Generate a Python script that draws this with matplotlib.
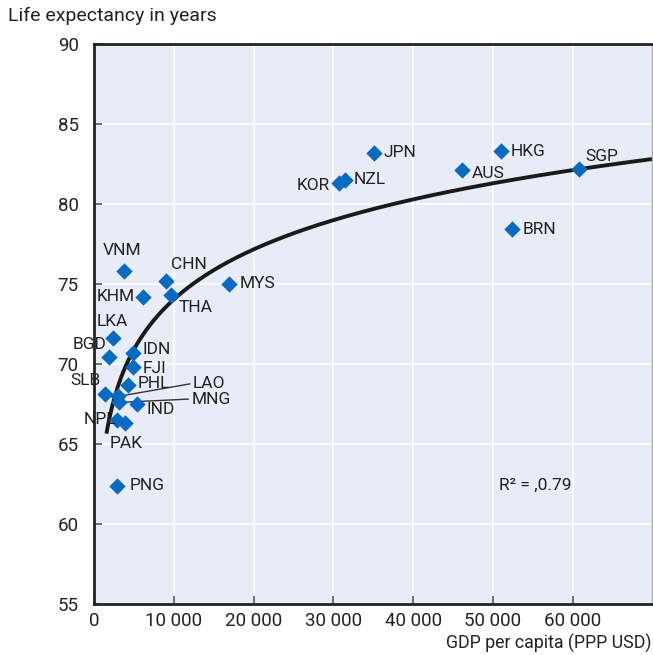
import numpy as np
import matplotlib.pyplot as plt
from matplotlib import rcParams

rcParams['font.family'] = ['Roboto', 'DejaVu Sans']

countries = ['JPN', 'HKG', 'AUS', 'SGP', 'KOR', 'NZL', 'BRN', 'VNM', 'CHN', 'KHM',
             'THA', 'MYS', 'LKA', 'BGD', 'IDN', 'FJI', 'PHL', 'SLB', 'LAO', 'MNG',
             'IND', 'NPL', 'PAK', 'PNG']
gdp = [35100, 51000, 46100, 60750, 30750, 31500, 52400, 3750, 9000, 6100,
       9600, 16900, 2400, 1900, 4900, 4900, 4250, 1400, 3000, 3100,
       5400, 2900, 3900, 2900]
life = [83.2, 83.3, 82.1, 82.2, 81.3, 81.5, 78.4, 75.8, 75.2, 74.2,
        74.3, 75.0, 71.6, 70.4, 70.7, 69.8, 68.7, 68.1, 68.0, 67.6,
        67.5, 66.5, 66.3, 62.4]

# logarithmic trend: life = a*ln(gdp) + b
trend_a = 4.51
trend_b = 32.49
trend_start = 1600

# label offsets in points (dx, dy, ha)
offsets = {
    'JPN': (7, 0, 'left'), 'HKG': (7, 0, 'left'), 'AUS': (7, -2, 'left'),
    'SGP': (5, 9, 'left'), 'KOR': (-7, -2, 'right'), 'NZL': (6, 0, 'left'),
    'BRN': (8, 0, 'left'), 'VNM': (-1, 15, 'center'), 'CHN': (4, 12, 'left'),
    'KHM': (-6, 0, 'right'), 'THA': (6, -9, 'left'), 'MYS': (8, 0, 'left'),
    'LKA': (-12, 12, 'left'), 'BGD': (-2, 9, 'right'), 'IDN': (7, 2, 'left'),
    'FJI': (7, -1, 'left'), 'PHL': (7, 1, 'left'), 'SLB': (-3, 10, 'right'),
    'IND': (7, -4, 'left'), 'NPL': (-1, 0, 'right'), 'PAK': (-11, -15, 'left'),
    'PNG': (9, 0, 'left'),
}
# leader-line labels (text position in data coords)
leaders = {'LAO': (12400, 68.75), 'MNG': (12200, 67.8)}

fig = plt.figure(figsize=(6.53, 6.55), dpi=100)
ax = fig.add_axes([0.144, 0.078, 0.855, 0.855])
ax.set_facecolor('#e8ecf7')

ax.set_xlim(0, 70000)
ax.set_ylim(55, 90)
ax.set_xticks(np.arange(0, 70000, 10000))
ax.set_yticks(np.arange(55, 91, 5))
ax.set_xticklabels(['0'] + ['%d 000' % (v // 1000) for v in range(10000, 70000, 10000)])
ax.grid(True, color='white', linewidth=1.2)
ax.set_axisbelow(True)
ax.tick_params(direction='in', length=6, width=1.2, color='#555555',
               labelsize=13.5, labelcolor='#222222')
ax.tick_params(axis='y', pad=11)
ax.tick_params(axis='x', pad=6)

for side in ['left', 'bottom', 'top']:
    ax.spines[side].set_color('#222222')
    ax.spines[side].set_linewidth(2)
ax.spines['right'].set_color('#aaaaaa')
ax.spines['right'].set_linewidth(1)

xs = np.linspace(trend_start, 70000, 400)
ax.plot(xs, trend_a * np.log(xs) + trend_b, color='#1a1a1a', linewidth=2.8, zorder=2)

ax.scatter(gdp, life, marker='D', s=70, color='#0a6abf', zorder=3, linewidths=0)

for c, x, y in zip(countries, gdp, life):
    if c in leaders:
        tx, ty = leaders[c]
        ax.plot([x + 400, tx - 400], [y, ty], color='#333333', linewidth=1, zorder=2)
        ax.text(tx, ty, c, fontsize=12.5, color='#222222', va='center', ha='left')
    else:
        dx, dy, ha = offsets[c]
        ax.annotate(c, (x, y), xytext=(dx, dy), textcoords='offset points',
                    fontsize=12.5, color='#222222', va='center', ha=ha)

ax.text(0.725, 0.212, 'R² = ,0.79', transform=ax.transAxes, fontsize=12.5,
        color='#222222', va='center')
fig.text(0.012, 0.968, 'Life expectancy in years', fontsize=14, color='#222222')
fig.text(0.998, 0.003, 'GDP per capita (PPP USD)', fontsize=12.8, color='#222222',
         ha='right', va='bottom')

plt.savefig('out.png')
